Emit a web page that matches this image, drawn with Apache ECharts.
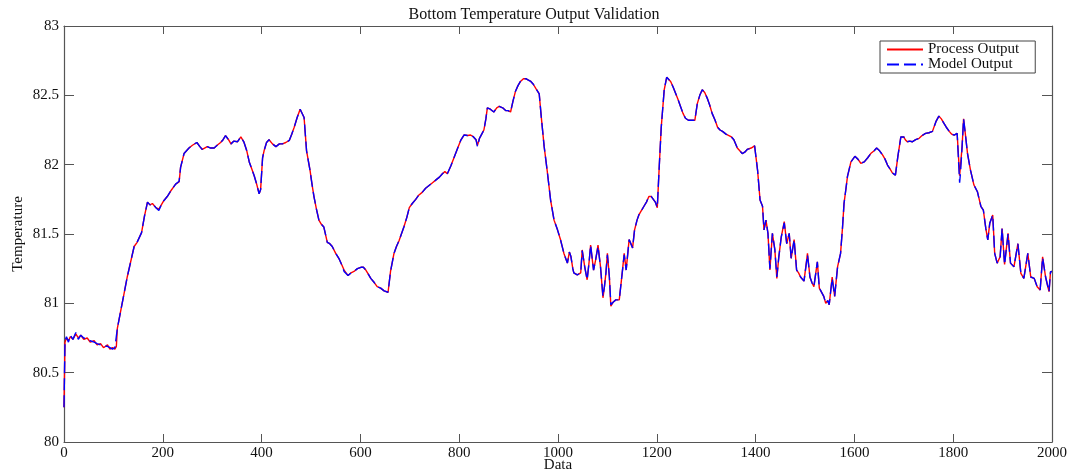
<!DOCTYPE html>
<html>
<head>
<meta charset="utf-8">
<script src="https://cdn.jsdelivr.net/npm/echarts@6/dist/echarts.min.js"></script>
<style>html,body{margin:0;padding:0;background:#fff}#c{width:1068px;height:472px}</style>
</head>
<body>
<div id="c"></div>
<script>
var titleText = 'Bottom Temperature Output Validation';
var xName = 'Data';
var yName = 'Temperature';
var seriesNames = ['Process Output', 'Model Output'];

var xs = [0,2,5,9,13,18,24,29,34,40,47,53,61,67,74,80,88,93,98,103,106,108,115,121,128,135,142,148,157,163,169,174,179,186,192,197,202,209,216,222,226,233,236,243,248,253,260,269,275,280,290,297,304,310,317,322,327,333,338,344,351,358,364,370,375,380,385,390,395,398,402,405,410,415,422,429,436,442,449,456,461,466,472,478,482,486,491,498,502,506,511,516,521,526,533,538,543,550,557,562,567,575,581,587,594,601,606,611,616,621,628,634,641,648,652,656,661,668,673,678,683,688,694,699,705,712,718,725,732,739,746,753,760,766,771,776,783,790,797,803,810,817,823,829,834,837,841,844,850,854,857,863,870,876,881,888,894,899,904,909,914,919,924,930,935,940,945,950,955,962,966,972,978,985,992,999,1005,1012,1019,1023,1026,1030,1032,1039,1046,1049,1054,1059,1063,1066,1072,1076,1081,1086,1091,1094,1097,1100,1104,1107,1112,1117,1124,1130,1134,1138,1144,1151,1155,1160,1164,1169,1174,1179,1184,1189,1193,1197,1201,1205,1209,1215,1220,1224,1228,1233,1238,1243,1248,1253,1258,1264,1269,1273,1277,1282,1287,1292,1297,1302,1307,1312,1318,1323,1328,1333,1340,1346,1351,1356,1363,1368,1373,1378,1383,1391,1398,1404,1409,1414,1417,1421,1425,1429,1434,1439,1443,1447,1452,1458,1463,1468,1472,1478,1483,1487,1491,1498,1505,1510,1514,1518,1525,1529,1535,1538,1542,1546,1549,1555,1560,1566,1572,1576,1579,1583,1586,1593,1601,1607,1613,1620,1627,1633,1640,1645,1651,1657,1662,1667,1672,1677,1683,1688,1694,1700,1703,1707,1712,1717,1724,1731,1737,1744,1751,1758,1765,1771,1776,1781,1786,1792,1797,1802,1808,1813,1815,1818,1821,1824,1829,1835,1842,1849,1856,1861,1866,1870,1874,1880,1884,1889,1895,1899,1904,1911,1916,1923,1931,1937,1943,1951,1957,1964,1970,1976,1981,1987,1994,1997,2000];

var processOutput = [80.25,80.72,80.75,80.73,80.76,80.74,80.78,80.75,80.77,80.74,80.75,80.72,80.73,80.70,80.71,80.68,80.70,80.67,80.68,80.67,80.69,80.82,80.95,81.06,81.19,81.30,81.41,81.44,81.51,81.63,81.73,81.71,81.72,81.69,81.68,81.71,81.74,81.77,81.81,81.84,81.86,81.875,81.98,82.08,82.10,82.12,82.14,82.16,82.13,82.11,82.13,82.12,82.12,82.14,82.16,82.18,82.21,82.18,82.15,82.17,82.165,82.20,82.165,82.10,82.02,81.97,81.92,81.86,81.79,81.82,82.05,82.10,82.16,82.18,82.15,82.13,82.15,82.15,82.16,82.175,82.22,82.27,82.34,82.40,82.39,82.34,82.10,81.96,81.86,81.77,81.68,81.60,81.57,81.55,81.44,81.43,81.41,81.36,81.32,81.28,81.24,81.20,81.22,81.23,81.25,81.26,81.26,81.24,81.21,81.18,81.15,81.12,81.11,81.09,81.10,81.08,81.23,81.36,81.41,81.45,81.50,81.55,81.62,81.69,81.72,81.75,81.78,81.80,81.83,81.85,81.87,81.89,81.91,81.935,81.95,81.935,81.99,82.055,82.12,82.175,82.214,82.21,82.214,82.20,82.18,82.14,82.19,82.21,82.25,82.33,82.41,82.40,82.38,82.41,82.42,82.41,82.39,82.39,82.38,82.46,82.53,82.57,82.60,82.62,82.62,82.61,82.60,82.58,82.55,82.51,82.35,82.13,81.96,81.745,81.60,81.53,81.46,81.36,81.29,81.37,81.34,81.25,81.22,81.205,81.22,81.385,81.265,81.17,81.30,81.42,81.24,81.31,81.42,81.265,81.04,81.12,81.22,81.36,81.19,80.98,81.01,81.025,81.025,81.22,81.36,81.24,81.46,81.40,81.53,81.60,81.64,81.67,81.70,81.73,81.77,81.77,81.76,81.73,81.69,81.99,82.27,82.54,82.63,82.62,82.60,82.56,82.515,82.47,82.42,82.37,82.335,82.32,82.32,82.33,82.32,82.44,82.50,82.54,82.52,82.48,82.43,82.37,82.32,82.27,82.25,82.24,82.22,82.21,82.20,82.18,82.12,82.10,82.08,82.09,82.11,82.12,82.135,81.96,81.745,81.70,81.53,81.60,81.505,81.24,81.505,81.385,81.18,81.335,81.48,81.59,81.43,81.505,81.325,81.46,81.24,81.22,81.19,81.16,81.36,81.19,81.15,81.12,81.30,81.11,81.07,81.05,81.00,81.02,80.99,81.19,81.05,81.265,81.36,81.55,81.72,81.83,81.915,82.02,82.06,82.04,82.01,82.02,82.05,82.08,82.10,82.12,82.10,82.07,82.04,81.997,81.97,81.94,81.925,82.06,82.20,82.20,82.18,82.165,82.17,82.165,82.18,82.19,82.21,82.226,82.23,82.24,82.31,82.35,82.33,82.30,82.27,82.24,82.22,82.213,82.226,81.92,81.93,82.13,82.33,82.24,82.08,81.96,81.853,81.805,81.70,81.673,81.54,81.457,81.577,81.637,81.36,81.29,81.336,81.54,81.28,81.505,81.29,81.264,81.43,81.216,81.18,81.36,81.19,81.18,81.12,81.096,81.336,81.19,81.084,81.228,81.23];

var modelOutput = [80.25,80.73,80.76,80.72,80.77,80.74,80.79,80.74,80.77,80.75,80.74,80.73,80.72,80.71,80.70,80.69,80.69,80.68,80.67,80.68,80.68,80.82,80.95,81.06,81.19,81.30,81.41,81.44,81.51,81.63,81.73,81.71,81.72,81.69,81.67,81.71,81.74,81.77,81.81,81.84,81.86,81.88,81.98,82.08,82.10,82.12,82.14,82.16,82.13,82.11,82.13,82.12,82.12,82.14,82.16,82.18,82.21,82.18,82.15,82.17,82.165,82.20,82.165,82.10,82.02,81.97,81.92,81.86,81.79,81.82,82.05,82.10,82.16,82.18,82.15,82.13,82.15,82.15,82.16,82.175,82.22,82.27,82.34,82.40,82.39,82.34,82.10,81.96,81.86,81.77,81.68,81.60,81.57,81.55,81.44,81.43,81.41,81.36,81.32,81.28,81.23,81.20,81.22,81.23,81.25,81.26,81.26,81.24,81.21,81.18,81.15,81.12,81.11,81.09,81.10,81.08,81.23,81.36,81.41,81.45,81.50,81.55,81.62,81.69,81.72,81.75,81.78,81.80,81.83,81.85,81.87,81.89,81.91,81.935,81.95,81.935,81.99,82.055,82.12,82.175,82.214,82.21,82.214,82.20,82.18,82.13,82.19,82.21,82.25,82.33,82.41,82.40,82.38,82.41,82.42,82.41,82.39,82.39,82.38,82.46,82.53,82.57,82.60,82.62,82.62,82.61,82.60,82.58,82.55,82.51,82.35,82.13,81.96,81.745,81.60,81.53,81.46,81.36,81.29,81.37,81.34,81.25,81.22,81.205,81.22,81.38,81.265,81.17,81.30,81.42,81.24,81.31,81.41,81.265,81.05,81.12,81.22,81.35,81.19,80.99,81.01,81.025,81.025,81.22,81.35,81.24,81.46,81.40,81.53,81.60,81.64,81.67,81.70,81.73,81.77,81.77,81.76,81.73,81.69,81.99,82.27,82.54,82.63,82.62,82.60,82.56,82.515,82.47,82.42,82.37,82.335,82.32,82.32,82.33,82.32,82.44,82.50,82.54,82.52,82.48,82.43,82.37,82.32,82.27,82.25,82.24,82.22,82.21,82.20,82.18,82.12,82.10,82.08,82.09,82.11,82.12,82.135,81.96,81.745,81.70,81.53,81.60,81.505,81.25,81.505,81.385,81.19,81.335,81.48,81.58,81.43,81.505,81.325,81.46,81.24,81.22,81.19,81.16,81.35,81.19,81.15,81.12,81.30,81.11,81.07,81.05,81.00,81.02,80.99,81.18,81.05,81.265,81.36,81.55,81.72,81.83,81.915,82.02,82.06,82.04,82.01,82.02,82.05,82.08,82.10,82.12,82.10,82.07,82.04,81.997,81.97,81.94,81.925,82.06,82.20,82.20,82.18,82.165,82.17,82.165,82.18,82.19,82.21,82.226,82.23,82.24,82.31,82.35,82.33,82.30,82.27,82.24,82.22,82.213,82.226,81.87,81.95,82.13,82.33,82.24,82.08,81.96,81.853,81.805,81.70,81.673,81.54,81.457,81.577,81.637,81.36,81.29,81.336,81.54,81.28,81.50,81.29,81.264,81.43,81.216,81.18,81.36,81.19,81.18,81.12,81.096,81.33,81.19,81.084,81.228,81.23];

var xTickInterval = 200;
var yTickInterval = 0.5;

function pairs(ys) { return xs.map(function (x, i) { return [x, ys[i]]; }); }

var font = 'Liberation Serif';
var axisColor = '#555';

var chart = echarts.init(document.getElementById('c'), null, { renderer: 'canvas' });
chart.setOption({
  animation: false,
  backgroundColor: '#fff',
  title: {
    text: titleText,
    left: 'center',
    top: 2,
    textStyle: { fontFamily: font, fontSize: 16, fontWeight: 'normal', color: '#111' }
  },
  legend: {
    show: true,
    orient: 'vertical',
    left: 880,
    top: 41,
    padding: [1, 16, 1, 6],
    itemGap: 0,
    itemWidth: 36,
    itemHeight: 17,
    backgroundColor: '#fff',
    borderColor: '#444',
    borderWidth: 1,
    borderRadius: 0,
    itemStyle: { opacity: 0 },
    textStyle: { fontFamily: font, fontSize: 15, color: '#111' },
    data: [seriesNames[0], seriesNames[1]]
  },
  grid: { left: 64, right: 16, top: 26, bottom: 30, show: false, containLabel: false, outerBoundsMode: 'none' },
  xAxis: [
    {
      type: 'value', min: 0, max: 2000, interval: xTickInterval,
      name: xName, nameLocation: 'middle', nameGap: 16, nameMoveOverlap: false,
      nameTextStyle: { fontFamily: font, fontSize: 15, color: '#111' },
      axisLine: { show: true, onZero: false, lineStyle: { color: axisColor, width: 1.2 } },
      axisTick: { show: true, inside: true, length: 8, lineStyle: { color: axisColor } },
      axisLabel: { fontFamily: font, fontSize: 15, color: '#111', margin: 4, showMinLabel: true, showMaxLabel: true,
        formatter: function (v) { return String(v); } },
      splitLine: { show: false }
    },
    {
      type: 'value', min: 0, max: 2000, interval: xTickInterval, position: 'top',
      axisLine: { show: true, onZero: false, lineStyle: { color: axisColor, width: 1.2 } },
      axisTick: { show: true, inside: true, length: 8, lineStyle: { color: axisColor } },
      axisLabel: { show: false },
      splitLine: { show: false }
    }
  ],
  yAxis: [
    {
      type: 'value', min: 80, max: 83, interval: yTickInterval,
      name: yName, nameLocation: 'middle', nameGap: 38, nameRotate: 90, nameMoveOverlap: false,
      nameTextStyle: { fontFamily: font, fontSize: 15, color: '#111' },
      axisLine: { show: true, onZero: false, lineStyle: { color: axisColor, width: 1.2 } },
      axisTick: { show: true, inside: true, length: 10, lineStyle: { color: axisColor } },
      axisLabel: { fontFamily: font, fontSize: 15, color: '#111', margin: 5,
        formatter: function (v) { return String(v); } },
      splitLine: { show: false }
    },
    {
      type: 'value', min: 80, max: 83, interval: yTickInterval, position: 'right',
      axisLine: { show: true, onZero: false, lineStyle: { color: axisColor, width: 1.2 } },
      axisTick: { show: true, inside: true, length: 10, lineStyle: { color: axisColor } },
      axisLabel: { show: false },
      splitLine: { show: false }
    }
  ],
  series: [
    {
      name: seriesNames[0], type: 'line', xAxisIndex: 0, yAxisIndex: 0,
      data: pairs(processOutput), showSymbol: false, symbol: 'none',
      color: '#ff0000',
      lineStyle: { color: '#ff0000', width: 1.4 }
    },
    {
      name: seriesNames[1], type: 'line', xAxisIndex: 0, yAxisIndex: 0,
      data: pairs(modelOutput), showSymbol: false, symbol: 'none',
      color: '#0000ff',
      lineStyle: { color: '#0000ff', width: 1.4, type: [12, 5] }
    }
  ]
});
</script>
</body>
</html>
